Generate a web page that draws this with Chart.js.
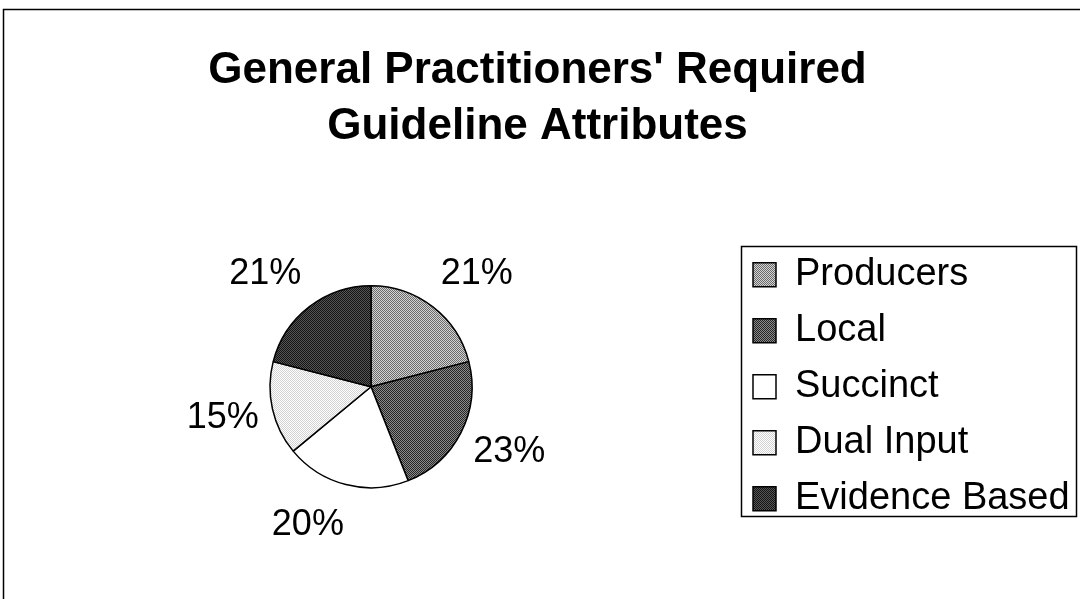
<!DOCTYPE html>
<html>
<head>
<meta charset="utf-8">
<title>General Practitioners' Required Guideline Attributes</title>
<script src="https://cdn.jsdelivr.net/npm/chart.js@4.4.1/dist/chart.umd.min.js"></script>
<style>
  html, body { margin: 0; padding: 0; background: #fff; }
  #wrap { width: 1080px; height: 599px; position: relative; }
</style>
</head>
<body>
<div id="wrap"><canvas id="chart"></canvas></div>
<script>
const categories = ['Producers', 'Local', 'Succinct', 'Dual Input', 'Evidence Based'];
const percentages = [21, 23, 20, 15, 21];
const titleLines = ["General Practitioners' Required", 'Guideline Attributes'];

const FONT = "'Liberation Sans', Arial, Helvetica, sans-serif";

// little 2x2 tiles to mimic the dithered greys of the original
function dither(a, b) {
  const c = document.createElement('canvas');
  c.width = 2; c.height = 2;
  const x = c.getContext('2d');
  x.fillStyle = a; x.fillRect(0, 0, 2, 2);
  x.fillStyle = b; x.fillRect(0, 0, 1, 1); x.fillRect(1, 1, 1, 1);
  return x.createPattern(c, 'repeat');
}

const fills = [
  dither('#d4d4d4', '#6a6a6a'), // Producers
  dither('#8a8a8a', '#262626'), // Local
  '#ffffff',                    // Succinct
  dither('#ffffff', '#d2d2d2'), // Dual Input
  dither('#555555', '#141414')  // Evidence Based
];

// outer frame of the chart (top + left edge only, as in the scan)
const framePlugin = {
  id: 'frame',
  beforeDraw(chart) {
    const ctx = chart.ctx;
    ctx.save();
    ctx.strokeStyle = '#000';
    ctx.lineWidth = 1.5;
    ctx.beginPath();
    ctx.moveTo(3.5, chart.height);
    ctx.lineTo(3.5, 9.5);
    ctx.lineTo(chart.width, 9.5);
    ctx.stroke();
    ctx.restore();
  }
};

// box drawn round the legend items
const legendBoxPlugin = {
  id: 'legendBox',
  afterDraw(chart) {
    const boxes = chart.legend && chart.legend.legendHitBoxes;
    if (!boxes || !boxes.length) return;
    const ctx = chart.ctx;
    const left = Math.min(...boxes.map(b => b.left)) - 12;
    const right = Math.min(Math.max(...boxes.map(b => b.left + b.width)) + 9, chart.width - 4);
    const top = boxes[0].top - 10;
    const last = boxes[boxes.length - 1];
    const bottom = last.top + last.height - 2;
    ctx.save();
    ctx.strokeStyle = '#000';
    ctx.lineWidth = 1.5;
    ctx.strokeRect(Math.round(left) + 0.5, Math.round(top) + 0.5, Math.round(right - left), Math.round(bottom - top));
    ctx.restore();
  }
};

// percentage labels outside each slice
const pctLabels = {
  id: 'pctLabels',
  afterDatasetsDraw(chart) {
    const ctx = chart.ctx;
    const meta = chart.getDatasetMeta(0);
    ctx.save();
    ctx.font = '36px ' + FONT;
    ctx.fillStyle = '#000';
    ctx.textAlign = 'center';
    ctx.textBaseline = 'middle';
    meta.data.forEach((arc, i) => {
      const p = arc.getProps(['x', 'y', 'startAngle', 'endAngle', 'outerRadius'], true);
      const mid = (p.startAngle + p.endAngle) / 2;
      const ux = Math.cos(mid), uy = Math.sin(mid);
      const txt = percentages[i] + '%';
      const w = ctx.measureText(txt).width;
      const x = p.x + (p.outerRadius + 16) * ux + Math.sign(ux) * (w / 2 - 2);
      const y = p.y + (p.outerRadius + 42) * uy;
      ctx.fillText(txt, x, y);
    });
    ctx.restore();
  }
};

const ctx = document.getElementById('chart').getContext('2d');
new Chart(ctx, {
  type: 'pie',
  data: {
    labels: categories,
    datasets: [{
      data: percentages,
      backgroundColor: fills,
      borderColor: '#000',
      borderWidth: 1.5,
      radius: 101
    }]
  },
  options: {
    responsive: true,
    maintainAspectRatio: false,
    animation: false,
    events: [],
    layout: { padding: { left: 7, right: 12, top: 0, bottom: 27 } },
    plugins: {
      title: {
        display: true,
        text: titleLines,
        color: '#000',
        font: { family: FONT, size: 44, weight: 'bold', lineHeight: 1.29 },
        padding: { top: 42, bottom: 46 }
      },
      legend: {
        display: true,
        position: 'right',
        fullSize: false,
        maxWidth: 333,
        labels: {
          color: '#000',
          font: { family: FONT, size: 38 },
          boxWidth: 23,
          boxHeight: 24,
          padding: 18
        }
      },
      tooltip: { enabled: false }
    }
  },
  plugins: [framePlugin, pctLabels, legendBoxPlugin]
});
</script>
</body>
</html>
